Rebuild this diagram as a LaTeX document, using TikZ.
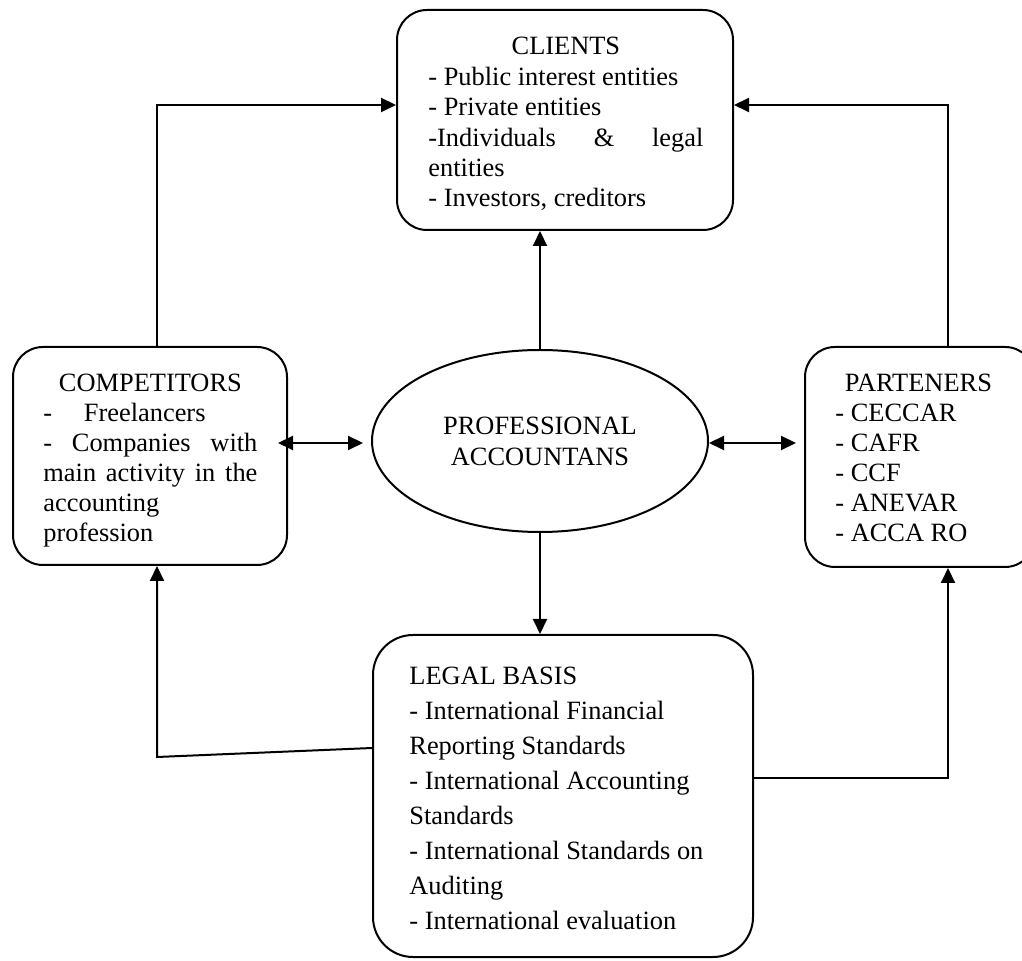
\documentclass[tikz,border=0pt]{standalone}
\usepackage{fontspec}
\setmainfont{Liberation Serif}
\usetikzlibrary{arrows.meta,shapes.geometric}
\begin{document}
\begin{tikzpicture}[x=0.5pt,y=-0.5pt,
  box/.style={draw,line width=1pt,rounded corners=15pt,inner sep=0pt},
  txt/.style={anchor=north west,inner sep=0pt,align=left,font=\fontsize{13.2}{15.2}\selectfont},
  arr/.style={line width=1pt,-{Triangle[length=7.5pt,width=7pt]}},
  darr/.style={line width=1pt,{Triangle[length=7.5pt,width=7pt]}-{Triangle[length=7.5pt,width=7pt]}}]
\clip (0,0) rectangle (1022,961);
% boxes
\node[box,minimum width=168pt,minimum height=110pt] (clients) at (565,120) {};
\node[box,minimum width=137pt,minimum height=109pt] (comp) at (150,456) {};
\node[box,minimum width=115pt,minimum height=110pt] (part) at (920,457) {};
\node[draw,line width=1pt,ellipse,minimum width=168pt,minimum height=91pt,inner sep=0pt,align=center,
      font=\fontsize{13.2}{15.5}\selectfont] (prof) at (540,441) {PROFESSIONAL\\ACCOUNTANS};
\node[box,rounded corners=20pt,minimum width=190pt,minimum height=161pt] (legal) at (563,796) {};
% texts
\node[txt] (clientstxt) at (428,37) {\makebox[137.5pt]{CLIENTS}\\
- Public interest entities\\
- Private entities\\
\makebox[137.5pt][s]{-Individuals \& legal}\\
entities\\
- Investors, creditors};
\node[txt,font=\fontsize{13.2}{15}\selectfont] (comptxt) at (43,374) {\makebox[107pt]{COMPETITORS}\\
-\hspace{1.2em}Freelancers\\
\makebox[107pt][s]{- Companies with}\\
\makebox[107pt][s]{main activity in the}\\
accounting\\
profession};
\node[txt,font=\fontsize{13.2}{15}\selectfont] (parttxt) at (835,374) {\makebox[83pt]{PARTENERS}\\
- CECCAR\\
- CAFR\\
- CCF\\
- ANEVAR\\
- ACCA RO};
\node[txt,font=\fontsize{13.2}{17.5}\selectfont] (legaltxt) at (409,667) {LEGAL BASIS\\
- International Financial\\
Reporting Standards\\
- International Accounting\\
Standards\\
- International Standards on\\
Auditing\\
- International evaluation};
% connectors
\coordinate (tl) at (157,105);
\coordinate (tr) at (948,105);
\coordinate (my) at (0,443);
\coordinate (bl) at (157,757);
\coordinate (bly) at (0,748);
\coordinate (br) at (948,778);
\draw[arr] (comp.north -| tl) -- (tl) -- (tl -| clients.west);
\draw[arr] (part.north -| tr) -- (tr) -- (tr -| clients.east);
\draw[arr] (prof.north) -- (prof.north |- clients.south);
\draw[arr] (prof.south) -- (prof.south |- legal.north);
\draw[darr,shorten <=-5pt,shorten >=4pt] (comp.east |- my) -- (prof.west |- my);
\draw[darr,shorten >=4pt] (prof.east |- my) -- (part.west |- my);
\draw[arr] (legal.west |- bly) -- (bl) -- (bl |- comp.south);
\draw[arr] (legal.east |- br) -- (br) -- (br |- part.south);
\end{tikzpicture}
\end{document}
